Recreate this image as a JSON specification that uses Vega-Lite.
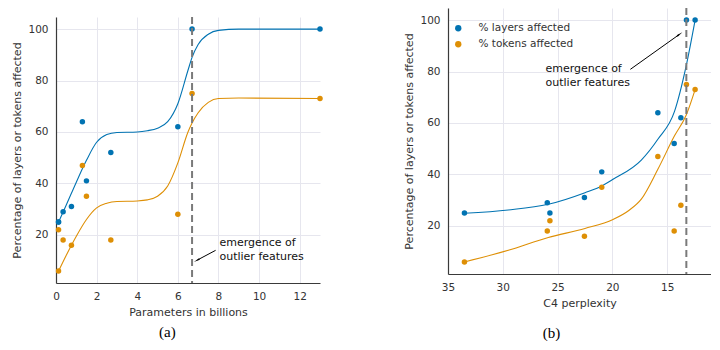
{
  "$schema": "https://vega.github.io/schema/vega-lite/v6.json",
  "background": "white",
  "padding": {"left": 11, "top": 7, "right": 0, "bottom": 0},
  "config": {
    "view": {"stroke": null},
    "font": "DejaVu Sans",
    "axis": {
      "labelFont": "DejaVu Sans", "titleFont": "DejaVu Sans",
      "labelFontSize": 10.5, "titleFontSize": 11, "titleFontWeight": "normal",
      "labelColor": "#333333", "titleColor": "#333333",
      "ticks": false, "grid": true, "gridColor": "#e6e6ee", "gridWidth": 1,
      "domainColor": "#3a3a3a", "domainWidth": 1.2,
      "labelPadding": 8, "titlePadding": 5, "labelFlush": false
    },
    "title": {"font": "Liberation Serif", "fontSize": 15, "fontWeight": "normal", "color": "#000000"}
  },
  "datasets": {
    "leftPts": [
      {"x": 0.125, "y": 25, "series": "% layers affected"},
      {"x": 0.125, "y": 25, "series": "% layers affected"},
      {"x": 0.35, "y": 29, "series": "% layers affected"},
      {"x": 0.76, "y": 31, "series": "% layers affected"},
      {"x": 1.3, "y": 64, "series": "% layers affected"},
      {"x": 1.5, "y": 41, "series": "% layers affected"},
      {"x": 2.7, "y": 52, "series": "% layers affected"},
      {"x": 6.0, "y": 62, "series": "% layers affected"},
      {"x": 6.7, "y": 100, "series": "% layers affected"},
      {"x": 13, "y": 100, "series": "% layers affected"},
      {"x": 0.125, "y": 6, "series": "% tokens affected"},
      {"x": 0.125, "y": 22, "series": "% tokens affected"},
      {"x": 0.35, "y": 18, "series": "% tokens affected"},
      {"x": 0.76, "y": 16, "series": "% tokens affected"},
      {"x": 1.3, "y": 47, "series": "% tokens affected"},
      {"x": 1.5, "y": 35, "series": "% tokens affected"},
      {"x": 2.7, "y": 18, "series": "% tokens affected"},
      {"x": 6.0, "y": 28, "series": "% tokens affected"},
      {"x": 6.7, "y": 75, "series": "% tokens affected"},
      {"x": 13, "y": 73, "series": "% tokens affected"}
    ],
    "leftCurve": [
      {"x": 0.1, "y": 24.5, "series": "% layers affected"},
      {"x": 0.5, "y": 31.5, "series": "% layers affected"},
      {"x": 1.0, "y": 40.5, "series": "% layers affected"},
      {"x": 1.5, "y": 49, "series": "% layers affected"},
      {"x": 2.0, "y": 56, "series": "% layers affected"},
      {"x": 2.5, "y": 59, "series": "% layers affected"},
      {"x": 3.0, "y": 59.8, "series": "% layers affected"},
      {"x": 4.0, "y": 60, "series": "% layers affected"},
      {"x": 4.5, "y": 60.5, "series": "% layers affected"},
      {"x": 5.0, "y": 61.5, "series": "% layers affected"},
      {"x": 5.5, "y": 64, "series": "% layers affected"},
      {"x": 6.0, "y": 71, "series": "% layers affected"},
      {"x": 6.5, "y": 84, "series": "% layers affected"},
      {"x": 6.7, "y": 89, "series": "% layers affected"},
      {"x": 7.0, "y": 94, "series": "% layers affected"},
      {"x": 7.5, "y": 98, "series": "% layers affected"},
      {"x": 8.0, "y": 99.5, "series": "% layers affected"},
      {"x": 9.0, "y": 100, "series": "% layers affected"},
      {"x": 13, "y": 100, "series": "% layers affected"},
      {"x": 0.1, "y": 5.5, "series": "% tokens affected"},
      {"x": 0.5, "y": 12, "series": "% tokens affected"},
      {"x": 1.0, "y": 19.5, "series": "% tokens affected"},
      {"x": 1.5, "y": 26, "series": "% tokens affected"},
      {"x": 2.0, "y": 30.5, "series": "% tokens affected"},
      {"x": 2.5, "y": 32.3, "series": "% tokens affected"},
      {"x": 3.0, "y": 33, "series": "% tokens affected"},
      {"x": 4.0, "y": 33.2, "series": "% tokens affected"},
      {"x": 4.5, "y": 33.6, "series": "% tokens affected"},
      {"x": 5.0, "y": 35, "series": "% tokens affected"},
      {"x": 5.5, "y": 39, "series": "% tokens affected"},
      {"x": 6.0, "y": 48, "series": "% tokens affected"},
      {"x": 6.5, "y": 60, "series": "% tokens affected"},
      {"x": 6.7, "y": 63.5, "series": "% tokens affected"},
      {"x": 7.0, "y": 67.5, "series": "% tokens affected"},
      {"x": 7.5, "y": 71.5, "series": "% tokens affected"},
      {"x": 8.0, "y": 73, "series": "% tokens affected"},
      {"x": 9.0, "y": 73.2, "series": "% tokens affected"},
      {"x": 13, "y": 73, "series": "% tokens affected"}
    ],
    "leftVline": [{"x": 6.7}],
    "leftArrow": [{"x": 7.86, "y": 14.0, "x2": 6.97, "y2": 10.26}],
    "leftText": [{"x": 8.05, "y": 16.8, "label": "emergence of\noutlier features"}],
    "rightPts": [
      {"x": 33.5, "y": 25, "series": "% layers affected"},
      {"x": 25.94, "y": 29, "series": "% layers affected"},
      {"x": 25.7, "y": 25, "series": "% layers affected"},
      {"x": 22.55, "y": 31, "series": "% layers affected"},
      {"x": 20.97, "y": 41, "series": "% layers affected"},
      {"x": 15.85, "y": 64, "series": "% layers affected"},
      {"x": 14.36, "y": 52, "series": "% layers affected"},
      {"x": 13.75, "y": 62, "series": "% layers affected"},
      {"x": 13.24, "y": 100, "series": "% layers affected"},
      {"x": 12.45, "y": 100, "series": "% layers affected"},
      {"x": 33.5, "y": 6, "series": "% tokens affected"},
      {"x": 25.94, "y": 18, "series": "% tokens affected"},
      {"x": 25.7, "y": 22, "series": "% tokens affected"},
      {"x": 22.55, "y": 16, "series": "% tokens affected"},
      {"x": 20.97, "y": 35, "series": "% tokens affected"},
      {"x": 15.85, "y": 47, "series": "% tokens affected"},
      {"x": 14.36, "y": 18, "series": "% tokens affected"},
      {"x": 13.75, "y": 28, "series": "% tokens affected"},
      {"x": 13.24, "y": 75, "series": "% tokens affected"},
      {"x": 12.45, "y": 73, "series": "% tokens affected"}
    ],
    "rightCurve": [
      {"x": 33.5, "y": 24.9, "series": "% layers affected"},
      {"x": 29.5, "y": 26.2, "series": "% layers affected"},
      {"x": 25.85, "y": 28.4, "series": "% layers affected"},
      {"x": 22.5, "y": 32.9, "series": "% layers affected"},
      {"x": 20.97, "y": 35.5, "series": "% layers affected"},
      {"x": 19.94, "y": 38.1, "series": "% layers affected"},
      {"x": 17.36, "y": 45.6, "series": "% layers affected"},
      {"x": 15.85, "y": 53.7, "series": "% layers affected"},
      {"x": 14.33, "y": 64.5, "series": "% layers affected"},
      {"x": 13.27, "y": 82.1, "series": "% layers affected"},
      {"x": 12.45, "y": 100, "series": "% layers affected"},
      {"x": 33.5, "y": 6, "series": "% tokens affected"},
      {"x": 29.5, "y": 10.5, "series": "% tokens affected"},
      {"x": 25.85, "y": 15.5, "series": "% tokens affected"},
      {"x": 22.5, "y": 19, "series": "% tokens affected"},
      {"x": 19.94, "y": 22.5, "series": "% tokens affected"},
      {"x": 18.5, "y": 26, "series": "% tokens affected"},
      {"x": 17.36, "y": 30.4, "series": "% tokens affected"},
      {"x": 15.85, "y": 42, "series": "% tokens affected"},
      {"x": 14.33, "y": 55, "series": "% tokens affected"},
      {"x": 13.27, "y": 63, "series": "% tokens affected"},
      {"x": 12.45, "y": 73, "series": "% tokens affected"}
    ],
    "rightVline": [{"x": 13.25}],
    "rightArrow": [{"x": 18.36, "y": 80.86, "x2": 13.93, "y2": 94.3}],
    "rightText": [{"x": 26.1, "y": 81.1, "label": "emergence of\noutlier features"}],
    "spacer": [{"v": 0}]
  },
  "spacing": 80,
  "resolve": {"scale": {"x": "independent", "y": "independent"}},
  "hconcat": [
    {
      "spacing": 7,
      "vconcat": [
        {
          "width": 264, "height": 1,
          "data": {"name": "spacer"},
          "mark": {"type": "tick", "opacity": 0},
          "encoding": {}
        },
        {
          "width": 264, "height": 266,
          "title": {"text": "(a)", "orient": "bottom", "anchor": "middle", "frame": "bounds", "dx": 0, "offset": 7},
          "encoding": {
            "x": {"field": "x", "type": "quantitative", "scale": {"domain": [0, 13], "nice": false, "zero": false}, "axis": {"values": [0, 2, 4, 6, 8, 10, 12], "title": "Parameters in billions"}},
            "y": {"field": "y", "type": "quantitative", "scale": {"domain": [1.3, 104.7], "nice": false, "zero": false}, "axis": {"values": [20, 40, 60, 80, 100], "title": "Percentage of layers or tokens affected"}}
          },
          "layer": [
            {
              "data": {"name": "leftCurve"},
              "transform": [{"filter": "datum.series === '% layers affected'"}],
              "mark": {"type": "line", "interpolate": "monotone", "strokeWidth": 1.1, "color": "#0173B2"}
            },
            {
              "data": {"name": "leftCurve"},
              "transform": [{"filter": "datum.series === '% tokens affected'"}],
              "mark": {"type": "line", "interpolate": "monotone", "strokeWidth": 1.1, "color": "#DE8F05"}
            },
            {
              "data": {"name": "leftPts"},
              "mark": {"type": "circle", "size": 30, "opacity": 1},
              "encoding": {"color": {"field": "series", "type": "nominal", "scale": {"domain": ["% layers affected", "% tokens affected"], "range": ["#0173B2", "#DE8F05"]}}}
            },
            {
              "data": {"name": "leftVline"},
              "mark": {"type": "rule", "strokeDash": [7, 4], "strokeWidth": 2, "color": "#7a7a7a"},
              "encoding": {"x": {"field": "x", "type": "quantitative"}, "y": null}
            },
            {
              "data": {"name": "leftArrow"},
              "mark": {"type": "rule", "color": "#000000", "strokeWidth": 1},
              "encoding": {"x2": {"field": "x2"}, "y2": {"field": "y2"}}
            },
            {
              "data": {"name": "leftArrow"},
              "mark": {"type": "point", "shape": "wedge", "angle": 242, "filled": true, "size": 55, "color": "#000000", "opacity": 1},
              "encoding": {"x": {"field": "x2", "type": "quantitative"}, "y": {"field": "y2", "type": "quantitative"}}
            },
            {
              "data": {"name": "leftText"},
              "mark": {"type": "text", "align": "left", "baseline": "middle", "fontSize": 11, "lineBreak": "\n", "lineHeight": 14, "color": "#111111", "font": "DejaVu Sans"},
              "encoding": {"text": {"field": "label"}}
            }
          ]
        }
      ]
    },
    {
      "width": 263, "height": 266,
      "title": {"text": "(b)", "orient": "bottom", "anchor": "middle", "frame": "bounds", "dx": -6, "offset": 17},
      "encoding": {
        "x": {"field": "x", "type": "quantitative", "scale": {"domain": [11, 35], "reverse": true, "nice": false, "zero": false}, "axis": {"values": [35, 30, 25, 20, 15], "title": "C4 perplexity"}},
        "y": {"field": "y", "type": "quantitative", "scale": {"domain": [1.3, 104.7], "nice": false, "zero": false}, "axis": {"values": [20, 40, 60, 80, 100], "title": "Percentage of layers or tokens affected"}}
      },
      "layer": [
        {
          "data": {"name": "rightCurve"},
          "transform": [{"filter": "datum.series === '% layers affected'"}],
          "mark": {"type": "line", "interpolate": "monotone", "strokeWidth": 1.1, "color": "#0173B2"}
        },
        {
          "data": {"name": "rightCurve"},
          "transform": [{"filter": "datum.series === '% tokens affected'"}],
          "mark": {"type": "line", "interpolate": "monotone", "strokeWidth": 1.1, "color": "#DE8F05"}
        },
        {
          "data": {"name": "rightPts"},
          "mark": {"type": "circle", "size": 30, "opacity": 1},
          "encoding": {"color": {"field": "series", "type": "nominal", "scale": {"domain": ["% layers affected", "% tokens affected"], "range": ["#0173B2", "#DE8F05"]},
            "legend": {"title": null, "orient": "none", "legendX": 397, "legendY": 15, "padding": 0, "symbolType": "circle", "symbolSize": 40, "labelFont": "DejaVu Sans", "labelFontSize": 10.5, "labelColor": "#333333", "labelOffset": 15, "rowPadding": 5}}}
        },
        {
          "data": {"name": "rightVline"},
          "mark": {"type": "rule", "strokeDash": [7, 4], "strokeWidth": 2, "color": "#7a7a7a"},
          "encoding": {"x": {"field": "x", "type": "quantitative"}, "y": null}
        },
        {
          "data": {"name": "rightArrow"},
          "mark": {"type": "rule", "color": "#000000", "strokeWidth": 1},
          "encoding": {"x2": {"field": "x2"}, "y2": {"field": "y2"}}
        },
        {
          "data": {"name": "rightArrow"},
          "mark": {"type": "point", "shape": "wedge", "angle": 54.7, "filled": true, "size": 55, "color": "#000000", "opacity": 1},
          "encoding": {"x": {"field": "x2", "type": "quantitative"}, "y": {"field": "y2", "type": "quantitative"}}
        },
        {
          "data": {"name": "rightText"},
          "mark": {"type": "text", "align": "left", "baseline": "middle", "fontSize": 11, "lineBreak": "\n", "lineHeight": 14, "color": "#111111", "font": "DejaVu Sans"},
          "encoding": {"text": {"field": "label"}}
        }
      ]
    }
  ]
}
